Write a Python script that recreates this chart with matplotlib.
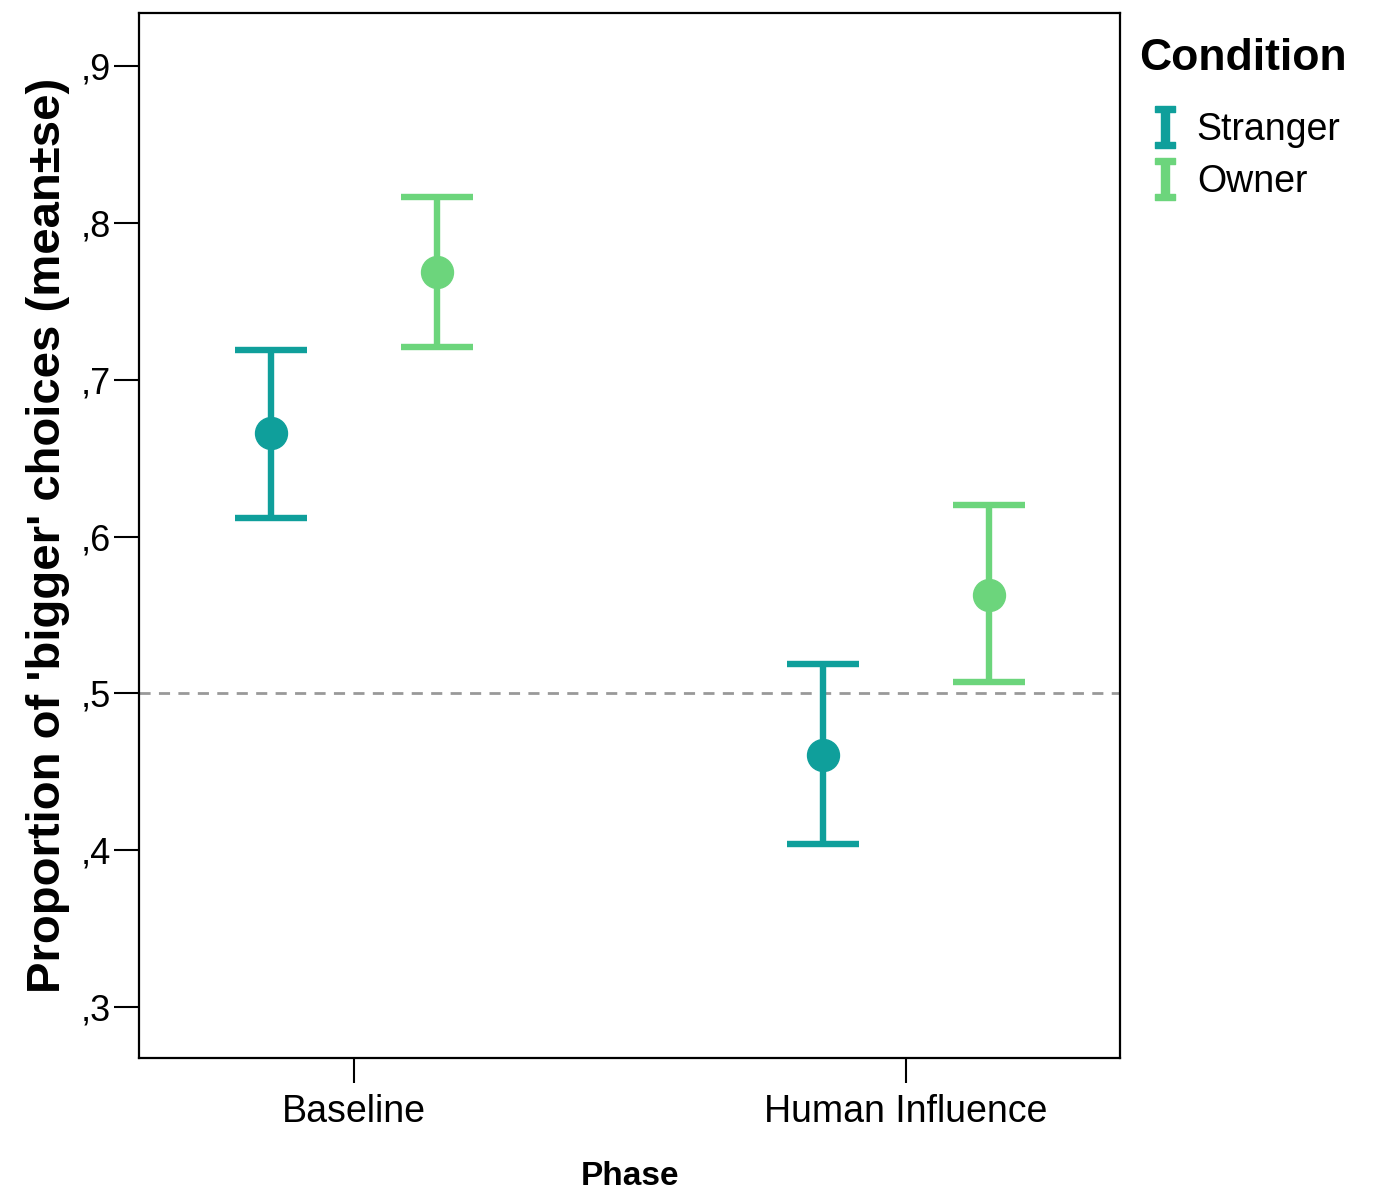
import numpy as np
import matplotlib.pyplot as plt
from matplotlib.path import Path
from matplotlib.lines import Line2D

# data
phases = ["Baseline", "Human Influence"]
conditions = ["Stranger", "Owner"]
means_stranger = [0.666, 0.461]
lower_stranger = [0.612, 0.404]
upper_stranger = [0.719, 0.519]
means_owner = [0.769, 0.563]
lower_owner = [0.721, 0.507]
upper_owner = [0.817, 0.620]
yticks = [0.3, 0.4, 0.5, 0.6, 0.7, 0.8, 0.9]
ytick_labels = [",3", ",4", ",5", ",6", ",7", ",8", ",9"]

colors = ["#0f9f9b", "#6cd57c"]
plt.rcParams['font.family'] = ['Liberation Sans', 'DejaVu Sans']

fig = plt.figure(figsize=(13.76, 11.9), dpi=100)
ax = fig.add_axes([0.101, 0.111, 0.713, 0.878])

x = np.arange(len(phases))
offset = 0.15
series = [(means_stranger, lower_stranger, upper_stranger),
          (means_owner, lower_owner, upper_owner)]

ax.axhline(0.5, color="#999999", lw=2, ls=(0, (4, 3)), zorder=1)

for i, (m, lo, hi) in enumerate(series):
    m = np.array(m); lo = np.array(lo); hi = np.array(hi)
    xs = x + (-offset if i == 0 else offset)
    ax.errorbar(xs, m, yerr=[m - lo, hi - m], fmt='o', color=colors[i],
                ms=23, elinewidth=4.6, capsize=26, capthick=4.6, zorder=3)

ax.set_xlim(-0.39, 1.388)
ax.set_ylim(0.2675, 0.934)
ax.set_xticks(x)
ax.set_xticklabels(phases, fontsize=27)
ax.set_yticks(yticks)
ax.set_yticklabels(ytick_labels, fontsize=26)
ax.tick_params(axis='both', length=18, width=1.5, color='black')
ax.tick_params(axis='x', pad=8)
ax.tick_params(axis='y', pad=2)
for s in ax.spines.values():
    s.set_linewidth(1.6)

ax.set_xlabel("Phase", fontsize=24, fontweight='bold', labelpad=22)
ax.set_ylabel("Proportion of 'bigger' choices (mean±se)", fontsize=34,
              fontweight='bold', labelpad=8)

# I-beam marker for the legend
ibeam = Path([(-0.5, 1), (0.5, 1), (0.5, 0.72), (0.2, 0.72), (0.2, -0.72),
              (0.5, -0.72), (0.5, -1), (-0.5, -1), (-0.5, -0.72), (-0.2, -0.72),
              (-0.2, 0.72), (-0.5, 0.72), (-0.5, 1)])
handles = [Line2D([], [], ls='none', marker=ibeam, ms=30, color=c, mec=c)
           for c in colors]
leg = fig.legend(handles, conditions, loc='upper left',
                 bbox_to_anchor=(0.8275, 0.968), frameon=False, fontsize=27,
                 title="Condition", alignment='left', handlelength=1.4,
                 handletextpad=0.15, labelspacing=0.42, borderpad=0,
                 borderaxespad=0)
leg.get_title().set_fontsize(32)
leg.get_title().set_fontweight('bold')
leg._legend_box.sep = 24

fig.savefig("out.png", dpi=100)
